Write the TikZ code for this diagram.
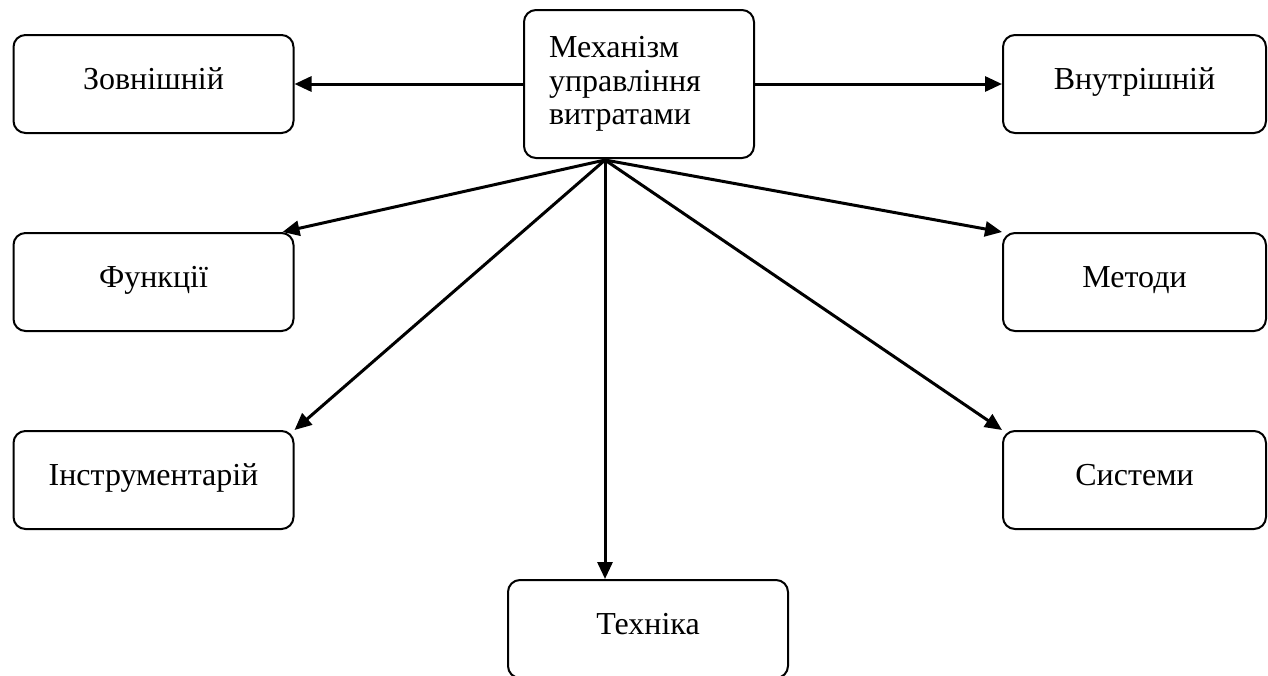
\documentclass[tikz,border=0pt]{standalone}
\usepackage{fontspec}
\setmainfont{Liberation Serif}
\usetikzlibrary{arrows.meta}
\begin{document}
\begin{tikzpicture}
            [x=0.5pt, y=-0.5pt,
            font=\fontsize{16}{16.8}\selectfont,
            every node/.style={draw=black, line width=1pt, rounded corners=6pt},
            box/.style={minimum width=140pt, minimum height=49pt, align=center, text height=11pt, text depth=5.4pt},
            rbox/.style={box, minimum width=131.5pt},
            link/.style={line width=1.5pt, -{Triangle[length=8.5pt, width=7.5pt]}}]
            \useasboundingbox (0,0) rectangle (1268,675);
            % centre and sides
            \node (centre) [align=left, text width=90pt, inner xsep=12.5pt, minimum height=74pt] at (639,84)
                {Механізм\\управління\\витратами};
            \node (zovn) [box] at (153.5,84) {Зовнішній};
            \node (vnut) [rbox] at (1134.5,84) {Внутрішній};
            \node (funk) [box] at (153.5,282) {Функції};
            \node (metody) [rbox] at (1134.5,282) {Методи};
            \node (instr) [box] at (153.5,480) {Інструментарій};
            \node (syst) [rbox] at (1134.5,480) {Системи};
            \node (tech) [box] at (648,629) {Техніка};
            \coordinate (hub) at (605,160);
            % arrows
            \draw[link] (centre.west) -- (zovn.east);
            \draw[link] (centre.east) -- (vnut.west);
            \draw[link] (hub) -- ([xshift=-6pt]funk.north east);
            \draw[link] (hub) -- (metody.north west);
            \draw[link] (hub) -- (instr.north east);
            \draw[link] (hub) -- (syst.north west);
            \draw[link] (hub) -- (hub |- tech.north);
        \end{tikzpicture}
\end{document}
